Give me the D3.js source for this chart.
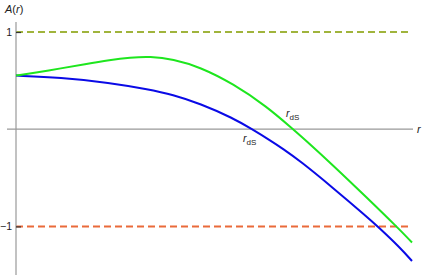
<!DOCTYPE html>
<html><head><meta charset="utf-8">
<script src="https://cdn.jsdelivr.net/npm/d3@7"></script>
<style>body{margin:0;background:#fff}svg{display:block}text{font-family:"Liberation Sans",Arial,sans-serif}</style>
</head><body>
<script>
const rGreen = [0,0.121,0.222,0.348,0.475,0.576,0.677,0.793,0.929,1.096,1.268,1.399,1.460,1.601,1.773,1.924,2.0];
const aGreen = [0.552,0.590,0.624,0.670,0.713,0.737,0.748,0.722,0.640,0.469,0.232,0,-0.108,-0.371,-0.706,-1.005,-1.165];
const rBlue = [0,0.222,0.475,0.662,0.793,0.929,1.096,1.192,1.283,1.348,1.434,1.601,1.773,1.828,1.939,2.0];
const aBlue = [0.552,0.531,0.479,0.412,0.356,0.263,0.115,0,-0.114,-0.201,-0.325,-0.603,-0.902,-1.002,-1.216,-1.356];
const yTicks = [1,-1];
const yTickLabels = ["1","\u22121"];
const refLevels = [1,-1];
const refColors = ["#a0b43c","#ea6a3a"];
const rootGreen = 1.399, rootBlue = 1.192;

const W=436,H=275;
const svg=d3.select("body").append("svg").attr("width",W).attr("height",H);
const x=d3.scaleLinear().domain([0,2]).range([16,412]);
const y=d3.scaleLinear().domain([-1.5,1.1]).range([275,22.3]);

// reference dashed lines
refLevels.forEach((v,i)=>{
  svg.append("line").attr("x1",x(0)).attr("x2",x(1.99)).attr("y1",y(v)).attr("y2",y(v))
    .attr("stroke",refColors[i]).attr("stroke-width",2).attr("stroke-dasharray","7,4");
});

// axes
svg.append("line").attr("x1",7).attr("x2",413).attr("y1",y(0)).attr("y2",y(0))
  .attr("stroke","#999").attr("stroke-width",1.2);
svg.append("line").attr("x1",x(0)).attr("x2",x(0)).attr("y1",22).attr("y2",275)
  .attr("stroke","#999").attr("stroke-width",1.2);
const yAxis=d3.axisRight(y).tickValues(yTicks).tickSize(5).tickFormat("");
const ga=svg.append("g").attr("transform",`translate(${x(0)},0)`).call(yAxis);
ga.select(".domain").remove();
ga.selectAll(".tick line").attr("stroke","#333").attr("stroke-width",1.2);
yTicks.forEach((v,i)=>{
  svg.append("text").attr("x",12).attr("y",y(v)).attr("dy","0.35em").attr("text-anchor","end")
    .attr("font-size",10.5).attr("fill","#222").text(yTickLabels[i]);
});

// curves
const line=d3.line().x(d=>x(d[0])).y(d=>y(d[1])).curve(d3.curveBasis);
svg.append("path").datum(rBlue.map((r,i)=>[r,aBlue[i]])).attr("d",line)
  .attr("fill","none").attr("stroke","#0a0ae6").attr("stroke-width",2);
svg.append("path").datum(rGreen.map((r,i)=>[r,aGreen[i]])).attr("d",line)
  .attr("fill","none").attr("stroke","#1ee61e").attr("stroke-width",2);

// labels
const al=svg.append("text").attr("x",5).attr("y",13).attr("font-size",11).attr("fill","#222");
al.append("tspan").attr("font-style","italic").text("A");
al.append("tspan").text("(");
al.append("tspan").attr("font-style","italic").text("r");
al.append("tspan").text(")");
svg.append("text").attr("x",417).attr("y",133).attr("font-size",11).attr("font-style","italic").attr("fill","#222").text("r");

function rds(px,py){
  const t=svg.append("text").attr("x",px).attr("y",py).attr("font-size",10.5).attr("fill","#222");
  t.append("tspan").attr("font-style","italic").text("r");
  t.append("tspan").attr("font-size",8).attr("dy",2.5).text("dS");
}
rds(x(rootGreen)-7,117);
rds(x(rootBlue)-9,142);
</script>
</body></html>
